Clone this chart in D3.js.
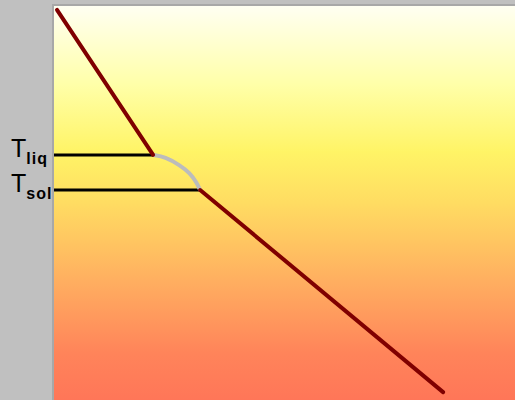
<!DOCTYPE html>
<html>
<head>
<meta charset="utf-8">
<script src="https://cdn.jsdelivr.net/npm/d3@7"></script>
<style>
  html, body { margin: 0; padding: 0; background: #c0c0c0; }
  svg { display: block; }
</style>
</head>
<body>
<div id="chart"></div>
<script>
// cooling curve: temperature vs time, liquid -> mushy zone -> solid
const liquidPts = [[0.65, 99.0], [21.5, 62.2]];
const mushyPts  = [[21.5, 62.2], [24.1, 61.7], [27.3, 59.6], [29.5, 57.6], [31.0, 55.1], [31.7, 53.3]];
const solidPts  = [[31.7, 53.3], [84.4, 2.0]];
const levels = [
  { name: "liq", temp: 62.2, time: 21.5 },
  { name: "sol", temp: 53.3, time: 31.7 }
];

const width = 515, height = 400;
const margin = { top: 6, right: 0, bottom: 0, left: 54 };

const svg = d3.select("#chart").append("svg")
    .attr("width", width).attr("height", height);

const x = d3.scaleLinear().domain([0, 100]).range([margin.left, width - margin.right]);
const y = d3.scaleLinear().domain([0, 100]).range([height - margin.bottom, margin.top]);

// background gradient
const grad = svg.append("defs").append("linearGradient")
    .attr("id", "bg").attr("x1", 0).attr("y1", 0).attr("x2", 0).attr("y2", 1);
[
  [0, "#fffff2"], [0.2, "#ffffa8"], [0.37, "#fff466"], [0.5, "#ffdc62"],
  [0.7, "#ffae60"], [0.88, "#ff845a"], [1, "#ff7658"]
].forEach(([o, c]) => grad.append("stop").attr("offset", o).attr("stop-color", c));

// frame shadow
svg.append("rect").attr("x", margin.left - 2).attr("y", margin.top - 2)
    .attr("width", width).attr("height", height).attr("fill", "#a8a8a8");
svg.append("rect").attr("x", margin.left).attr("y", margin.top)
    .attr("width", width - margin.left).attr("height", height - margin.top)
    .attr("fill", "url(#bg)");

const line = d3.line().x(d => x(d[0])).y(d => y(d[1]));

// level lines
levels.forEach(l => {
  svg.append("line")
    .attr("x1", x(0)).attr("x2", x(l.time))
    .attr("y1", y(l.temp)).attr("y2", y(l.temp))
    .attr("stroke", "#000").attr("stroke-width", 3);
});

svg.append("path").datum(mushyPts)
    .attr("fill", "none").attr("stroke", "#bcbcbc").attr("stroke-width", 4)
    .attr("d", line.curve(d3.curveBasis));
line.curve(d3.curveLinear);

[liquidPts, solidPts].forEach(pts => {
  svg.append("path").datum(pts)
    .attr("fill", "none").attr("stroke", "#800000").attr("stroke-width", 4)
    .attr("stroke-linecap", "round")
    .attr("d", line);
});

// labels
levels.forEach(l => {
  const t = svg.append("text")
    .attr("x", 11).attr("y", y(l.temp) + 2)
    .style("font-family", "Liberation Sans, Arial, sans-serif")
    .style("font-size", "25px").style("fill", "#000");
  t.append("tspan").text("T");
  t.append("tspan").attr("dy", 7)
    .style("font-size", "16px").style("font-weight", "bold")
    .style("letter-spacing", "1px")
    .text(l.name);
});
</script>
</body>
</html>
